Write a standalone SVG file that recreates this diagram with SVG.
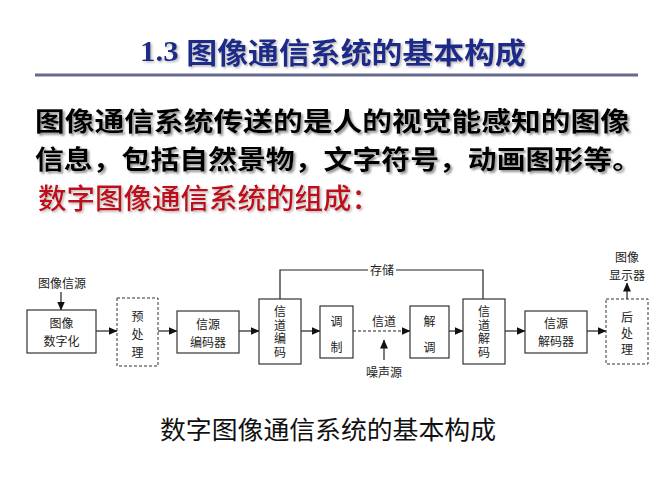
<svg xmlns="http://www.w3.org/2000/svg" width="667" height="500" viewBox="0 0 667 500">
<defs>
<filter id="sh" x="-5%" y="-20%" width="110%" height="150%"><feDropShadow dx="2" dy="2" stdDeviation="1" flood-color="#777" flood-opacity="0.8"/></filter>
<filter id="sh2" x="-5%" y="-20%" width="110%" height="150%"><feDropShadow dx="1.5" dy="1.5" stdDeviation="1" flood-color="#999" flood-opacity="0.7"/></filter>
<marker id="ah" markerWidth="9" markerHeight="8" refX="8.5" refY="4" orient="auto" markerUnits="userSpaceOnUse"><path d="M0,0 L9,4 L0,8 Z" fill="#111"/></marker>
</defs>
<style>
.t{font-family:"Noto Sans CJK SC","Noto Sans",sans-serif;}
.lb{font-family:"Noto Sans CJK SC","Noto Sans",sans-serif;font-size:12px;fill:#222;text-anchor:middle;dominant-baseline:central;}
.vt{font-family:"Noto Sans CJK SC","Noto Sans",sans-serif;font-size:12px;fill:#222;text-anchor:middle;writing-mode:vertical-rl;letter-spacing:1.5px;}
.bx{fill:#fff;stroke:#333;stroke-width:1.2;}
.dbx{fill:#fff;stroke:#333;stroke-width:1;stroke-dasharray:3,2;}
.ln{fill:none;stroke:#222;stroke-width:1.2;}
</style>
<rect width="667" height="500" fill="#fff"/>
<g id="title">
<text x="140" y="51" class="t" font-size="29" fill="#1c2a8a" font-weight="bold" filter="url(#sh2)" dominant-baseline="central" textLength="386" lengthAdjust="spacingAndGlyphs"><tspan font-family="Liberation Serif,serif">1.3 </tspan>图像通信系统的基本构成</text>
<line x1="35" y1="75" x2="638" y2="75" stroke="#666a8c" stroke-width="3"/>
</g>
<g id="body">
<text class="t" font-size="26" font-weight="bold" fill="#000" filter="url(#sh)" dominant-baseline="central"><tspan x="35" y="119" textLength="595" lengthAdjust="spacingAndGlyphs">图像通信系统传送的是人的视觉能感知的图像</tspan><tspan x="35" y="157" textLength="606" lengthAdjust="spacingAndGlyphs">信息，包括自然景物，文字符号，动画图形等。</tspan></text>
<text x="38" y="197" class="t" font-size="28" font-weight="500" fill="#c0101a" filter="url(#sh2)" dominant-baseline="central" textLength="342" lengthAdjust="spacingAndGlyphs">数字图像通信系统的组成：</text>
</g>
<g id="connectors">
<line class="ln" x1="61" y1="292" x2="61" y2="310" marker-end="url(#ah)"/>
<line class="ln" x1="96" y1="331" x2="117" y2="331" marker-end="url(#ah)"/>
<line class="ln" x1="158" y1="331" x2="177" y2="331" marker-end="url(#ah)"/>
<line class="ln" x1="239" y1="331" x2="259" y2="331" marker-end="url(#ah)"/>
<line class="ln" x1="301" y1="331" x2="320" y2="331" marker-end="url(#ah)"/>
<line class="ln" x1="353" y1="331" x2="410" y2="331" stroke-dasharray="3,2" marker-end="url(#ah)"/>
<line class="ln" x1="384" y1="360" x2="384" y2="340" marker-end="url(#ah)"/>
<line class="ln" x1="449" y1="331" x2="463" y2="331" marker-end="url(#ah)"/>
<line class="ln" x1="505" y1="331" x2="525" y2="331" marker-end="url(#ah)"/>
<line class="ln" x1="587" y1="331" x2="606" y2="331" marker-end="url(#ah)"/>
<line class="ln" x1="627" y1="299" x2="627" y2="283" marker-end="url(#ah)"/>
<polyline class="ln" points="280,299 280,270 483,270 483,299"/>
<rect x="368" y="262" width="28" height="14" fill="#fff"/>
<text class="lb" x="382" y="269">存储</text>
<text class="lb" x="384" y="320">信道</text>
<text class="lb" x="384" y="371">噪声源</text>
</g>
<g id="src"><text class="lb" x="62" y="282">图像信源</text></g>
<g id="digitize"><rect class="bx" x="27" y="310" width="69" height="43"/><text class="lb"><tspan x="61.5" y="322">图像</tspan><tspan x="61.5" y="340">数字化</tspan></text></g>
<g id="pre"><rect class="dbx" x="117" y="298" width="41" height="68"/><text class="lb"><tspan x="137.5" y="315">预</tspan><tspan x="137.5" y="333">处</tspan><tspan x="137.5" y="351">理</tspan></text></g>
<g id="srcenc"><rect class="bx" x="177" y="311" width="62" height="42"/><text class="lb"><tspan x="208" y="323">信源</tspan><tspan x="208" y="341">编码器</tspan></text></g>
<g id="chenc"><rect class="bx" x="259" y="299" width="42" height="65"/><text class="vt" x="280" y="332.5">信道编码</text></g>
<g id="mod"><rect class="bx" x="320" y="306" width="33" height="52"/><text class="lb"><tspan x="336.5" y="320">调</tspan><tspan x="336.5" y="346">制</tspan></text></g>
<g id="demod"><rect class="bx" x="410" y="306" width="39" height="52"/><text class="lb"><tspan x="429.5" y="320">解</tspan><tspan x="429.5" y="346">调</tspan></text></g>
<g id="chdec"><rect class="bx" x="463" y="299" width="42" height="65"/><text class="vt" x="484" y="332.5">信道解码</text></g>
<g id="srcdec"><rect class="bx" x="525" y="311" width="62" height="42"/><text class="lb"><tspan x="556" y="322">信源</tspan><tspan x="556" y="340">解码器</tspan></text></g>
<g id="post"><rect class="dbx" x="606" y="299" width="42" height="65"/><text class="lb"><tspan x="627" y="316">后</tspan><tspan x="627" y="332">处</tspan><tspan x="627" y="348">理</tspan></text></g>
<g id="display"><text class="lb"><tspan x="627" y="256">图像</tspan><tspan x="627" y="274">显示器</tspan></text></g>
<g id="caption"><text x="328" y="428" class="t" font-size="25" fill="#111" text-anchor="middle" dominant-baseline="central" textLength="336" lengthAdjust="spacingAndGlyphs">数字图像通信系统的基本构成</text></g>
</svg>
